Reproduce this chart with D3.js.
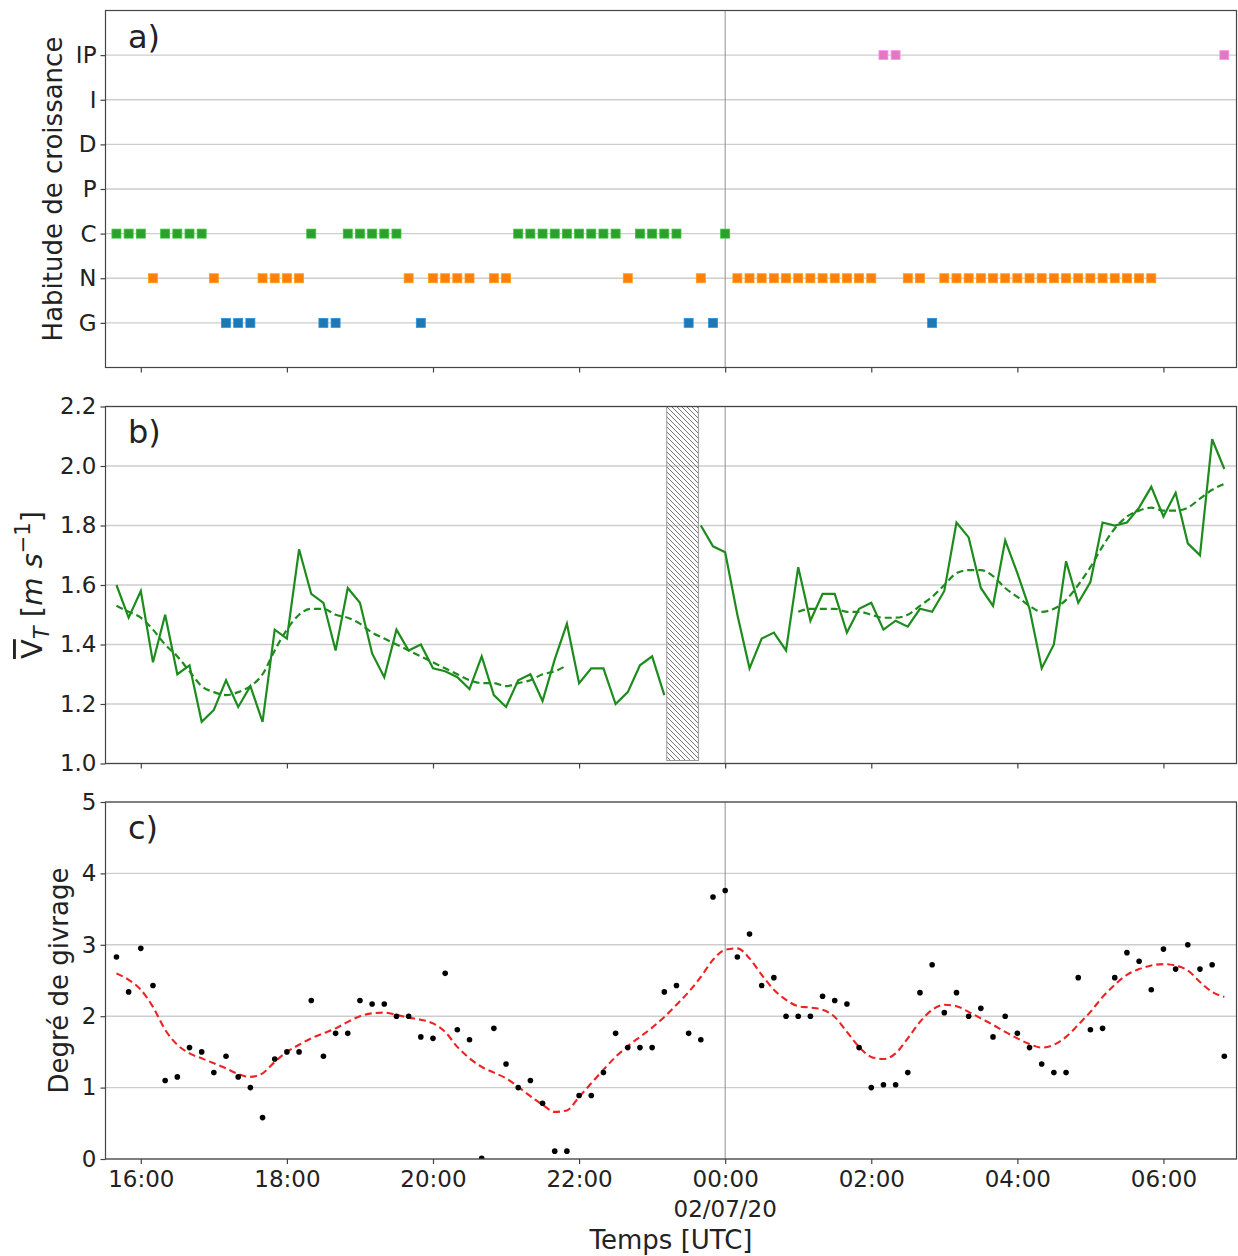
<!DOCTYPE html>
<html>
<head>
<meta charset="utf-8">
<script src="https://cdn.jsdelivr.net/npm/d3@7"></script>
<style>
  body { margin: 0; background: #fff; }
  svg { display: block; }
  text { font-family: "DejaVu Sans", sans-serif; fill: #222; }
</style>
</head>
<body>
<svg id="chart" width="1238" height="1256"></svg>
<script>
// ---- data: 10-minute samples, 2020-07-01 15:40 UTC -> 2020-07-02 06:50 UTC ----
const firstSample = "2020-07-01T15:40Z";
const sampleMinutes = 10;
const xStart = "2020-07-01T15:31Z";
const xEnd = "2020-07-02T07:00Z";

// growth habit categories (bottom to top)
const habitLabels = ["G", "N", "C", "P", "D", "I", "IP"];
const habitColors = { G: "#1f77b4", N: "#ff7f0e", C: "#2ca02c", P: "#d62728", D: "#9467bd", I: "#8c564b", IP: "#e377c2" };
const habit = [
  "C","C","C","N","C","C","C","C","N","G",
  "G","G","N","N","N","N","C","G","G","C",
  "C","C","C","C","N","G","N","N","N","N",
  null,"N","N","C","C","C","C","C","C","C",
  "C","C","N","C","C","C","C","G","N","G",
  "C","N","N","N","N","N","N","N","N","N",
  "N","N","N","IP","IP","N","N","G","N","N",
  "N","N","N","N","N","N","N","N","N","N",
  "N","N","N","N","N","N",null,null,null,null,
  null,"IP"
];

// mean fall speed [m/s]
const vt = [
  1.60,1.49,1.58,1.34,1.50,1.30,1.33,1.14,1.18,1.28,
  1.19,1.26,1.14,1.45,1.42,1.72,1.57,1.54,1.38,1.59,
  1.54,1.37,1.29,1.45,1.38,1.40,1.32,1.31,1.29,1.25,
  1.36,1.23,1.19,1.28,1.30,1.21,1.35,1.47,1.27,1.32,
  1.32,1.20,1.24,1.33,1.36,1.23,null,null,1.80,1.73,
  1.71,1.50,1.32,1.42,1.44,1.38,1.66,1.48,1.57,1.57,
  1.44,1.52,1.54,1.45,1.48,1.46,1.52,1.51,1.58,1.81,
  1.76,1.59,1.53,1.75,1.64,1.52,1.32,1.40,1.68,1.54,
  1.61,1.81,1.80,1.81,1.86,1.93,1.83,1.91,1.74,1.70,
  2.09,1.99
];
// smoothed fall speed
const vtSmooth = [
  1.53,1.51,1.49,1.45,1.40,1.36,1.31,1.26,1.24,1.23,
  1.24,1.26,1.30,1.38,1.45,1.50,1.52,1.52,1.50,1.49,
  1.47,1.44,1.42,1.40,1.38,1.36,1.34,1.32,1.30,1.28,
  1.27,1.27,1.26,1.27,1.28,1.30,1.31,1.33,null,null,
  null,null,null,null,null,null,null,null,null,null,
  null,null,null,null,null,null,1.51,1.52,1.52,1.52,
  1.51,1.51,1.50,1.49,1.49,1.50,1.53,1.56,1.60,1.64,
  1.65,1.65,1.63,1.59,1.56,1.53,1.51,1.52,1.55,1.60,
  1.66,1.73,1.79,1.83,1.85,1.86,1.85,1.85,1.86,1.89,
  1.92,1.94
];
// no-measurement interval in the fall-speed record
const gapStart = "2020-07-01T23:12Z";
const gapEnd = "2020-07-01T23:38Z";

// riming degree
const icing = [
  2.83,2.34,2.95,2.43,1.10,1.15,1.56,1.50,1.21,1.44,
  1.15,1.00,0.58,1.40,1.50,1.50,2.22,1.44,1.76,1.76,
  2.22,2.17,2.17,2.00,2.00,1.71,1.69,2.60,1.81,1.67,
  0.01,1.83,1.33,1.00,1.10,0.78,0.11,0.11,0.89,0.89,
  1.21,1.76,1.56,1.56,1.56,2.34,2.43,1.76,1.67,3.67,
  3.76,2.83,3.15,2.43,2.54,2.00,2.00,2.00,2.28,2.22,
  2.17,1.56,1.00,1.04,1.04,1.21,2.33,2.72,2.05,2.33,
  2.00,2.11,1.71,2.00,1.76,1.56,1.33,1.21,1.21,2.54,
  1.81,1.83,2.54,2.89,2.77,2.37,2.94,2.66,3.00,2.66,
  2.72,1.44
];
// smoothed riming degree
const icingSmooth = [
  2.60,2.51,2.37,2.13,1.81,1.60,1.48,1.41,1.34,1.27,
  1.19,1.15,1.20,1.36,1.50,1.60,1.69,1.76,1.83,1.92,
  2.00,2.04,2.05,2.02,1.98,1.95,1.90,1.78,1.57,1.41,
  1.29,1.21,1.13,1.01,0.88,0.76,0.66,0.68,0.87,1.06,
  1.25,1.43,1.58,1.71,1.84,1.99,2.16,2.34,2.55,2.79,
  2.93,2.95,2.81,2.58,2.37,2.23,2.14,2.12,2.09,1.99,
  1.78,1.57,1.43,1.40,1.48,1.69,1.92,2.09,2.16,2.14,
  2.06,1.97,1.88,1.78,1.69,1.61,1.56,1.60,1.71,1.88,
  2.06,2.27,2.44,2.58,2.66,2.71,2.73,2.71,2.64,2.48,
  2.34,2.27
];

const vtTicks = [1.0, 1.2, 1.4, 1.6, 1.8, 2.0, 2.2];
const icingTicks = [0, 1, 2, 3, 4, 5];
const timeTicks = ["2020-07-01T16:00Z","2020-07-01T18:00Z","2020-07-01T20:00Z","2020-07-01T22:00Z",
                   "2020-07-02T00:00Z","2020-07-02T02:00Z","2020-07-02T04:00Z","2020-07-02T06:00Z"];
const midnight = "2020-07-02T00:00Z";

// ---- layout ----
const svg = d3.select("#chart");
const left = 105.5, right = 1236.5;
const panelBox = {
  a: { top: 10.5, bottom: 367.5 },
  b: { top: 406.5, bottom: 763.5 },
  c: { top: 802, bottom: 1159 }
};
const tickFont = 23, labelFont = 26, panelFont = 32;
const gridColor = "#cdcdcd", spineColor = "#444";

const times = habit.map((_, i) => d3.utcMinute.offset(new Date(firstSample), sampleMinutes * i));
const x = d3.scaleUtc().domain([new Date(xStart), new Date(xEnd)]).range([left, right]);
const tickDates = timeTicks.map(d => new Date(d));

const defs = svg.append("defs");
const hatch = defs.append("pattern")
  .attr("id", "hatch").attr("patternUnits", "userSpaceOnUse")
  .attr("width", 5).attr("height", 5);
hatch.append("path")
  .attr("d", "M0,0L5,5M-1,4L1,6M4,-1L6,1")
  .attr("stroke", "#666").attr("stroke-width", 0.9);

function makePanel(key, domain, gridValues) {
  const box = panelBox[key];
  const y = d3.scaleLinear().domain(domain).range([box.bottom, box.top]);
  const g = svg.append("g");
  defs.append("clipPath").attr("id", "clip-" + key)
    .append("rect").attr("x", left).attr("y", box.top)
    .attr("width", right - left).attr("height", box.bottom - box.top);
  // horizontal grid
  g.append("g").selectAll("line").data(gridValues).join("line")
    .attr("x1", left).attr("x2", right)
    .attr("y1", d => y(d)).attr("y2", d => y(d))
    .attr("stroke", gridColor).attr("stroke-width", 1.4);
  // midnight marker
  g.append("line")
    .attr("x1", x(new Date(midnight))).attr("x2", x(new Date(midnight)))
    .attr("y1", box.top).attr("y2", box.bottom)
    .attr("stroke", "#9a9a9a").attr("stroke-width", 1.1);
  const plot = g.append("g").attr("clip-path", `url(#clip-${key})`);
  return { y, g, plot, box };
}

function styleAxis(sel) {
  sel.select(".domain").remove();
  sel.selectAll(".tick line").attr("stroke", spineColor).attr("stroke-width", 1.2);
  sel.selectAll(".tick text").attr("fill", "#222")
    .style("font-family", '"DejaVu Sans", sans-serif').style("font-size", tickFont + "px");
}

function finishPanel(p, yTickValues, yFormat, showXLabels) {
  // y axis
  const ya = p.g.append("g").attr("transform", `translate(${left},0)`)
    .call(d3.axisLeft(p.y).tickValues(yTickValues).tickFormat(yFormat).tickSize(5).tickPadding(4));
  styleAxis(ya);
  // x axis
  const xa = p.g.append("g").attr("transform", `translate(0,${p.box.bottom})`)
    .call(d3.axisBottom(x).tickValues(tickDates)
      .tickFormat(showXLabels ? d3.utcFormat("%H:%M") : () => "")
      .tickSize(5).tickPadding(7));
  styleAxis(xa);
  if (showXLabels) {
    xa.append("text")
      .attr("x", x(new Date(midnight))).attr("y", 58)
      .attr("text-anchor", "middle")
      .style("font-size", tickFont + "px")
      .text(d3.utcFormat("%d/%m/%y")(new Date(midnight)));
  }
  // frame
  p.g.append("rect")
    .attr("x", left).attr("y", p.box.top)
    .attr("width", right - left).attr("height", p.box.bottom - p.box.top)
    .attr("fill", "none").attr("stroke", spineColor).attr("stroke-width", 1.2);
}

function panelTag(p, label, baseline) {
  p.g.append("text").attr("x", 128).attr("y", baseline)
    .style("font-size", panelFont + "px").text(label);
}

function yTitle(xPos, p, size, build) {
  const t = svg.append("text")
    .attr("transform", `translate(${xPos},${(p.box.top + p.box.bottom) / 2}) rotate(-90)`)
    .attr("text-anchor", "middle")
    .style("font-size", size + "px");
  build(t);
}

// ---- a) growth habit ----
const pa = makePanel("a", [-1, 7], d3.range(habitLabels.length));
const habitPts = habit.map((h, i) => ({ t: times[i], h })).filter(d => d.h !== null);
const sq = 9;
pa.plot.selectAll("rect.habit").data(habitPts).join("rect")
  .attr("class", "habit")
  .attr("x", d => x(d.t) - sq / 2)
  .attr("y", d => pa.y(habitLabels.indexOf(d.h)) - sq / 2)
  .attr("width", sq).attr("height", sq)
  .attr("fill", d => habitColors[d.h])
  .attr("stroke", d => d3.color(habitColors[d.h]).brighter(0.6))
  .attr("stroke-width", 0.8);
finishPanel(pa, d3.range(habitLabels.length), i => habitLabels[i], false);
panelTag(pa, "a)", 48);
yTitle(62, pa, labelFont, t => t.text("Habitude de croissance"));

// ---- b) fall speed ----
const pb = makePanel("b", [1.0, 2.2], vtTicks);
pb.plot.append("rect")
  .attr("x", x(new Date(gapStart))).attr("width", x(new Date(gapEnd)) - x(new Date(gapStart)))
  .attr("y", pb.y(2.2)).attr("height", pb.y(1.01) - pb.y(2.2))
  .attr("fill", "url(#hatch)").attr("stroke", "#999").attr("stroke-width", 1);
const vtLine = d3.line().defined(d => d.v !== null).x(d => x(d.t)).y(d => pb.y(d.v));
pb.plot.append("path")
  .datum(vt.map((v, i) => ({ t: times[i], v })))
  .attr("d", vtLine).attr("fill", "none")
  .attr("stroke", "#1d8c1d").attr("stroke-width", 2.2).attr("stroke-linejoin", "miter");
pb.plot.append("path")
  .datum(vtSmooth.map((v, i) => ({ t: times[i], v })))
  .attr("d", vtLine.curve(d3.curveMonotoneX)).attr("fill", "none")
  .attr("stroke", "#1d8c1d").attr("stroke-width", 2.2).attr("stroke-dasharray", "7,4");
finishPanel(pb, vtTicks, d3.format(".1f"), false);
panelTag(pb, "b)", 443);
yTitle(42, pb, 29, t => {
  t.append("tspan").style("text-decoration", "overline").text("V");
  t.append("tspan").attr("dy", 7).style("font-size", "21px").style("font-style", "italic").text("T");
  t.append("tspan").attr("dy", -7).text(" [");
  t.append("tspan").style("font-style", "italic").text("m");
  t.append("tspan").text(" ");
  t.append("tspan").style("font-style", "italic").text("s");
  t.append("tspan").attr("dy", -12).style("font-size", "21px").text("\u22121");
  t.append("tspan").attr("dy", 12).text("]");
});

// ---- c) riming degree ----
const pc = makePanel("c", [0, 5], icingTicks);
pc.plot.append("path")
  .datum(icingSmooth.map((v, i) => ({ t: times[i], v })))
  .attr("d", d3.line().x(d => x(d.t)).y(d => pc.y(d.v)).curve(d3.curveMonotoneX))
  .attr("fill", "none").attr("stroke", "#ee2222").attr("stroke-width", 2.1)
  .attr("stroke-dasharray", "7,4");
pc.plot.selectAll("circle").data(icing.map((v, i) => ({ t: times[i], v }))).join("circle")
  .attr("cx", d => x(d.t)).attr("cy", d => pc.y(d.v)).attr("r", 2.8).attr("fill", "#000");
finishPanel(pc, icingTicks, d3.format("d"), true);
panelTag(pc, "c)", 839);
yTitle(68, pc, labelFont, t => t.text("Degré de givrage"));

// x-axis title
svg.append("text")
  .attr("x", (left + right) / 2).attr("y", 1249)
  .attr("text-anchor", "middle")
  .style("font-size", labelFont + "px")
  .text("Temps [UTC]");
</script>
</body>
</html>
